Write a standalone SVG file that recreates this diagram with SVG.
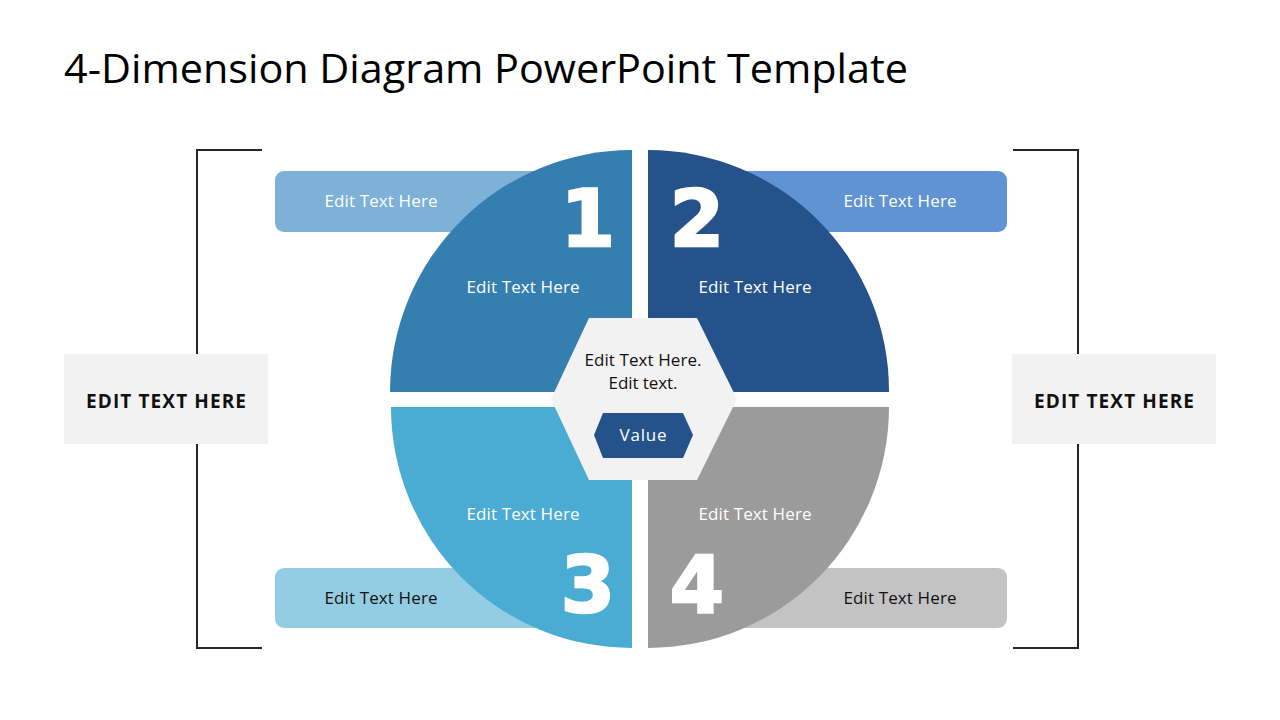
<svg xmlns="http://www.w3.org/2000/svg" width="1280" height="720" viewBox="0 0 1280 720">
<style>
.t{font-family:"Open Sans","Liberation Sans",sans-serif;text-anchor:middle}
.w{fill:#ffffff;font-size:17px}
.k{fill:#111111;font-size:17px}
.num{font-family:"DejaVu Sans","Liberation Sans",sans-serif;font-weight:bold;font-size:78px;fill:#ffffff;stroke:#ffffff;stroke-width:2.5;text-anchor:middle}
.side{fill:#111111;font-size:19px;font-weight:bold}
.br{fill:none;stroke:#262626;stroke-width:2}
</style>
<rect width="1280" height="720" fill="#ffffff"/>
<text x="64" y="83" font-family="Open Sans, Liberation Sans, sans-serif" font-size="40" fill="#000" textLength="844" lengthAdjust="spacingAndGlyphs">4-Dimension Diagram PowerPoint Template</text>
<g id="connectors">
<polyline class="br" points="262,150 197,150 197,648 262,648"/>
<polyline class="br" points="1013,150 1078,150 1078,648 1013,648"/>
</g>
<g id="label1"><rect x="275" y="171" width="300" height="61" rx="9" fill="#7DB1D7"/><text class="t w" x="381" y="207" textLength="113">Edit Text Here</text></g>
<g id="label2"><rect x="707" y="171" width="300" height="61" rx="9" fill="#5F93D3"/><text class="t w" x="900" y="207" textLength="113">Edit Text Here</text></g>
<g id="label3"><rect x="275" y="568" width="300" height="60" rx="9" fill="#93CDE3"/><text class="t k" x="381" y="604" textLength="113">Edit Text Here</text></g>
<g id="label4"><rect x="707" y="568" width="300" height="60" rx="9" fill="#C3C3C3"/><text class="t k" x="900" y="604" textLength="113">Edit Text Here</text></g>
<g id="q1"><path d="M632,392 L390,392 A242,242 0 0 1 632,150 Z" fill="#357EB0"/><text class="num" x="588" y="246">1</text><text class="t w" x="523" y="293" textLength="113">Edit Text Here</text></g>
<g id="q2"><path d="M648,392 L648,150 A241,241 0 0 1 889,392 Z" fill="#25528B"/><text class="num" x="697" y="246">2</text><text class="t w" x="755" y="293" textLength="113">Edit Text Here</text></g>
<g id="q3"><path d="M632,407 L632,648 A241,241 0 0 1 391,407 Z" fill="#4BACD3"/><text class="num" x="588" y="612">3</text><text class="t w" x="523" y="520" textLength="113">Edit Text Here</text></g>
<g id="q4"><path d="M648,407 L889,407 A241,241 0 0 1 648,648 Z" fill="#9B9B9B"/><text class="num" x="697" y="612">4</text><text class="t w" x="755" y="520" textLength="113">Edit Text Here</text></g>
<g id="center"><polygon points="589,318 697,318 737,399 697,480 589,480 551,399" fill="#F2F2F2"/>
<text class="t k" x="643" y="366" textLength="117">Edit Text Here.</text>
<text class="t k" x="643" y="389" textLength="69">Edit text.</text></g>
<g id="value"><polygon points="603,413 683,413 693,435 683,458 603,458 594,435" fill="#25528B"/><text class="t w" x="643" y="441" textLength="47">Value</text></g>
<g id="leftbox"><rect x="64" y="354" width="204" height="90" fill="#F2F2F2"/><text class="t side" x="166" y="408" textLength="160">EDIT TEXT HERE</text></g>
<g id="rightbox"><rect x="1012" y="354" width="204" height="90" fill="#F2F2F2"/><text class="t side" x="1114" y="408" textLength="160">EDIT TEXT HERE</text></g>
</svg>
